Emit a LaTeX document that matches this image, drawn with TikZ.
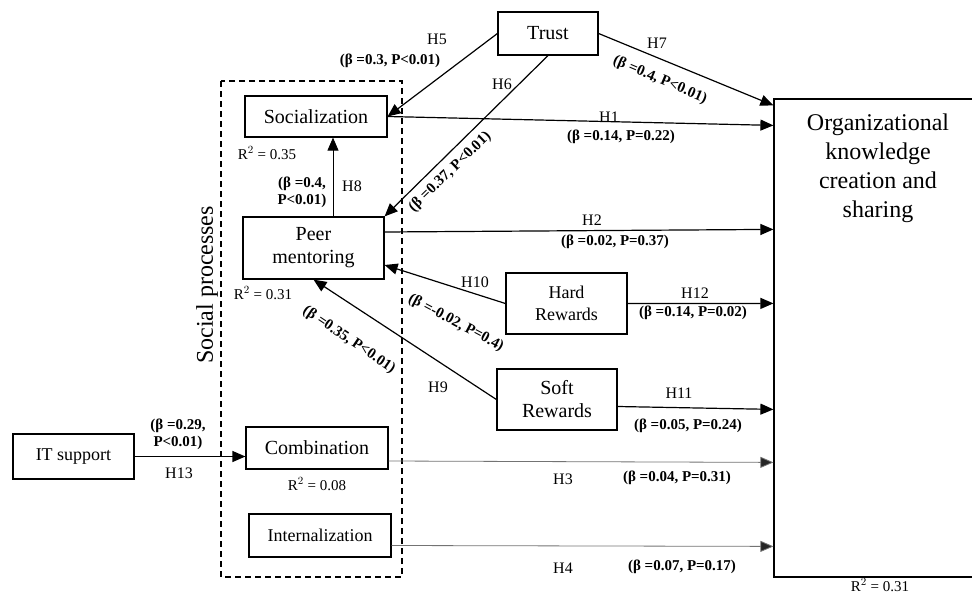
\documentclass[tikz,border=0pt]{standalone}
\usepackage{fontspec}
\setmainfont{Liberation Serif}
\usetikzlibrary{arrows.meta}
\begin{document}
\begin{tikzpicture}[x=1pt,y=-1pt,
    box/.style={draw,line width=1.2pt,inner sep=0pt,align=center,font=\fontsize{20}{23}\selectfont},
    hyp/.style={inner sep=0pt,font=\fontsize{16}{18}\selectfont},
    coef/.style={inner sep=0pt,align=center,font=\bfseries\fontsize{15}{17}\selectfont},
    rsq/.style={inner sep=0pt,font=\fontsize{15}{17}\selectfont},
    link/.style={line width=1.2pt,-{Triangle[length=13pt,width=11pt]}},
    weak/.style={line width=0.8pt,draw=black!55,-{Triangle[length=13pt,width=11pt,fill=black!85]}}]
        \useasboundingbox (0,0) rectangle (972,594);

        \draw[dashed,line width=1.2pt,dash pattern=on 6pt off 4pt] (221,81) rectangle (402,577);
        \node[rotate=90,font=\fontsize{24}{26}\selectfont] (soc-proc) at (207,285) {Social processes};

        \node[box,minimum width=100,minimum height=43] (trust) at (548,33.5) {Trust};
        \node[box,minimum width=142,minimum height=41] (soc) at (316,116.5) {Socialization};
        \node[box,minimum width=141,minimum height=62] (peer) at (313.5,248) {Peer\\mentoring};
        \node[box,minimum width=121,minimum height=61,font=\fontsize{18}{22}\selectfont] (hard) at (566.5,303.5) {Hard\\Rewards};
        \node[box,minimum width=120,minimum height=61] (soft) at (557,399.5) {Soft\\Rewards};
        \node[box,minimum width=121,minimum height=45,font=\fontsize{18}{22}\selectfont] (it) at (73.5,456.5) {IT support};
        \node[box,minimum width=142,minimum height=42] (comb) at (317,448) {Combination};
        \node[box,minimum width=142,minimum height=43,font=\fontsize{18}{22}\selectfont] (intl) at (320,535.5) {Internalization};
        \node[draw,line width=1.2pt,minimum width=208,minimum height=478] (org) at (878,338) {};
        \node[align=center,font=\fontsize{24}{29}\selectfont] (org-txt) at (878,168.5) {Organizational\\knowledge\\creation and\\sharing};

        \draw[link] (trust.west) -- (soc.east);
        \draw[link] (trust.south) -- (peer.north east);
        \draw[link] (trust.east) -- ([yshift=-7]org.north west);
        \draw[link] (soc.east) -- ([yshift=-27]org.north west);
        \draw[link,line width=0.8pt] ([xshift=19.5]peer.north) -- ([xshift=17]soc.south);
        \draw[link] ([yshift=16]peer.east) -- ([yshift=-131]org.north west);
        \draw[link] (hard.west) -- ([yshift=-17]peer.east);
        \draw[link] (soft.west) -- (peer.south);
        \draw[link] (hard.east) -- ([yshift=-205]org.north west);
        \draw[link] ([yshift=-7]soft.east) -- ([yshift=-311]org.north west);
        \draw[weak] ([yshift=-13]comb.east) -- ([yshift=-364]org.north west);
        \draw[weak] ([yshift=-10]intl.east) -- ([yshift=-448]org.north west);
        \draw[link] (it.east) -- (it.east -| comb.west);

        \node[hyp] (h5) at (437,39) {H5};
        \node[coef] (b5) at (390,61) {(β =0.3, P<0.01)};
        \node[hyp] (h6) at (502,84) {H6};
        \node[coef,rotate=44] (b6) at (450,172) {(β =0.37, P<0.01)};
        \node[hyp] (h7) at (657,43) {H7};
        \node[coef,rotate=-23] (b7) at (660,80) {(β =0.4, P<0.01)};
        \node[hyp] (h1) at (609,117) {H1};
        \node[coef] (b1) at (621,137) {(β =0.14, P=0.22)};
        \node[hyp] (h8) at (352,186) {H8};
        \node[coef] (b8) at (302,192) {(β =0.4,\\P<0.01)};
        \node[hyp] (h2) at (592,220) {H2};
        \node[coef] (b2) at (615,242) {(β =0.02, P=0.37)};
        \node[hyp] (h10) at (475,282) {H10};
        \node[coef,rotate=-28] (b10) at (456,323) {(β =-0.02, P=0.4)};
        \node[hyp] (h9) at (438,387) {H9};
        \node[coef,rotate=-34] (b9) at (349,340) {(β =0.35, P<0.01)};
        \node[hyp] (h12) at (695,293) {H12};
        \node[coef] (b12) at (693,313) {(β =0.14, P=0.02)};
        \node[hyp] (h11) at (679,393) {H11};
        \node[coef] (b11) at (688,426) {(β =0.05, P=0.24)};
        \node[hyp] (h3) at (563,479) {H3};
        \node[coef] (b3) at (677,478) {(β =0.04, P=0.31)};
        \node[hyp] (h4) at (563,568) {H4};
        \node[coef] (b4) at (682,567) {(β =0.07, P=0.17)};
        \node[coef] (b13) at (178,434) {(β =0.29,\\P<0.01)};
        \node[hyp] (h13) at (179,473) {H13};

        \node[rsq] (r-soc) at (267,153) {R$^2$ = 0.35};
        \node[rsq] (r-peer) at (263,293) {R$^2$ = 0.31};
        \node[rsq] (r-comb) at (317,484) {R$^2$ = 0.08};
        \node[rsq] (r-org) at (880,585) {R$^2$ = 0.31};
    \end{tikzpicture}
\end{document}
